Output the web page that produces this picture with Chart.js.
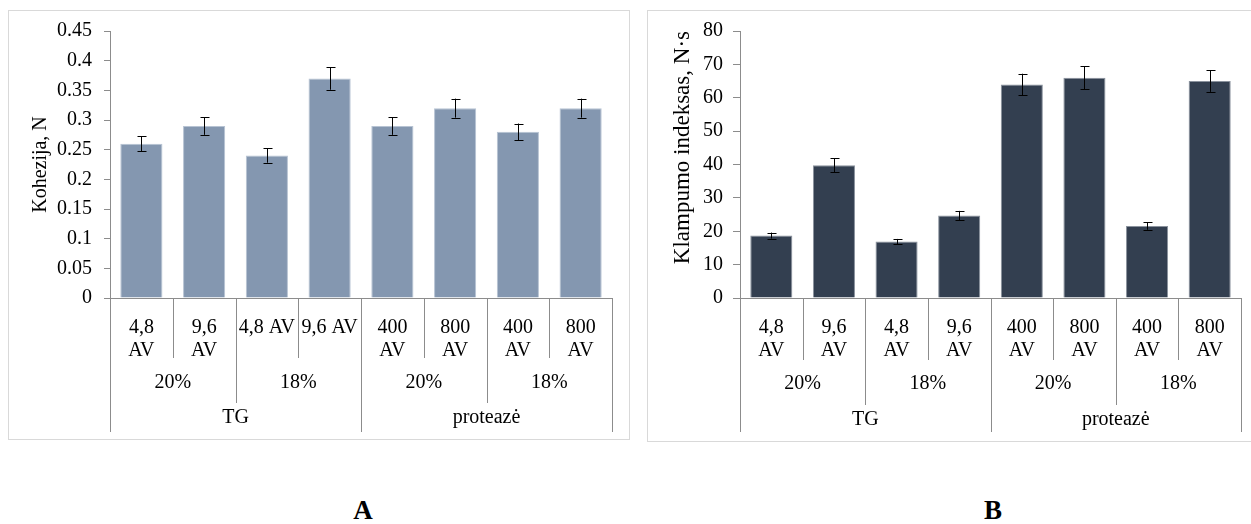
<!DOCTYPE html>
<html>
<head>
<meta charset="utf-8">
<script src="https://cdn.jsdelivr.net/npm/chart.js@4.4.1/dist/chart.umd.min.js"></script>
<style>
  html, body { margin: 0; padding: 0; background: #fff; }
  #page { position: relative; width: 1251px; height: 524px; overflow: hidden; background: #fff; }
  .frame { position: absolute; box-sizing: border-box; border: 1px solid #d9d9d9; }
  canvas { position: absolute; }
  .panel { position: absolute; font-family: 'Liberation Serif', 'Times New Roman', serif;
           font-weight: bold; font-size: 27px; line-height: 30px; color: #000;
           width: 60px; text-align: center; }
</style>
</head>
<body>
<div id="page">
  <div class="frame" style="left:8px; top:10px; width:622px; height:430px;"></div>
  <div class="frame" style="left:647px; top:10px; width:620px; height:432px;"></div>
  <canvas id="chartA" width="640" height="440" style="left:0px; top:0px;"></canvas>
  <canvas id="chartB" width="611" height="444" style="left:640px; top:0px;"></canvas>
  <div class="panel" style="left:333px; top:495px;">A</div>
  <div class="panel" style="left:963px; top:495px;">B</div>
</div>
<script>
// Category levels (innermost first)
const doseLabelsA = [['4,8', 'AV'], ['9,6', 'AV'], '4,8 AV', '9,6 AV', ['400', 'AV'], ['800', 'AV'], ['400', 'AV'], ['800', 'AV']];
const doseLabelsB = [['4,8', 'AV'], ['9,6', 'AV'], ['4,8', 'AV'], ['9,6', 'AV'], ['400', 'AV'], ['800', 'AV'], ['400', 'AV'], ['800', 'AV']];
const moistureLabels = ['20%', '18%', '20%', '18%'];
const enzymeLabels = ['TG', 'proteazė'];

// Cohesion, N (mean and error)
const kohezija = [0.26, 0.29, 0.24, 0.37, 0.29, 0.32, 0.28, 0.32];
const kohezijaErr = [0.013, 0.015, 0.012, 0.019, 0.015, 0.016, 0.014, 0.016];

// Stickiness index, N·s (mean and error)
const klampumas = [18.7, 39.8, 16.9, 24.7, 64.0, 66.0, 21.6, 65.0];
const klampumasErr = [0.9, 2.05, 0.8, 1.4, 3.2, 3.4, 1.15, 3.25];

// Value axis ranges
const yRangeA = { min: 0, max: 0.45, step: 0.05 };
const yRangeB = { min: 0, max: 80, step: 10 };

const FONT_FAMILY = "'Liberation Serif', 'Times New Roman', serif";
const FONT_SIZE = 20;
const AXIS_GRAY = '#8c8c8c';

// Error bars drawn on top of each bar through the value scale
const errorBars = {
  id: 'errorBars',
  afterDatasetsDraw(chart, args, opts) {
    const { ctx } = chart;
    const y = chart.scales.y;
    const meta = chart.getDatasetMeta(0);
    const values = chart.data.datasets[0].data;
    ctx.save();
    ctx.strokeStyle = '#000';
    ctx.lineWidth = 1;
    meta.data.forEach((bar, i) => {
      const x = Math.round(bar.x) + 0.5;
      const top = y.getPixelForValue(values[i] + opts.errors[i]);
      const bot = y.getPixelForValue(values[i] - opts.errors[i]);
      ctx.beginPath();
      ctx.moveTo(x, top); ctx.lineTo(x, bot);
      ctx.moveTo(x - 4, Math.round(top) + 0.5); ctx.lineTo(x + 5, Math.round(top) + 0.5);
      ctx.moveTo(x - 4, Math.round(bot) + 0.5); ctx.lineTo(x + 5, Math.round(bot) + 0.5);
      ctx.stroke();
    });
    ctx.restore();
  }
};

// Grouped category axis: separators between categories and the outer label rows
const groupedAxis = {
  id: 'groupedAxis',
  afterDraw(chart, args, opts) {
    const { ctx } = chart;
    const x = chart.scales.x;
    const n = chart.data.labels.length;
    const half = (x.getPixelForValue(1) - x.getPixelForValue(0)) / 2;
    const y0 = chart.chartArea.bottom;
    const edge = i => Math.round(x.getPixelForValue(i) - half) + 0.5;
    ctx.save();
    ctx.strokeStyle = AXIS_GRAY;
    ctx.lineWidth = 1;
    for (let i = 0; i <= n; i++) {
      let end = opts.level1End;
      if (i % 4 === 0) end = opts.level3End;
      else if (i % 2 === 0) end = opts.level2End;
      ctx.beginPath();
      ctx.moveTo(edge(i), y0);
      ctx.lineTo(edge(i), end);
      ctx.stroke();
    }
    ctx.fillStyle = '#000';
    ctx.font = opts.font;
    ctx.textAlign = 'center';
    ctx.textBaseline = 'middle';
    opts.level2.forEach((t, g) => {
      const cx = (x.getPixelForValue(g * 2) + x.getPixelForValue(g * 2 + 1)) / 2;
      ctx.fillText(t, cx, opts.level2Y);
    });
    opts.level3.forEach((t, g) => {
      const cx = (x.getPixelForValue(g * 4) + x.getPixelForValue(g * 4 + 3)) / 2;
      ctx.fillText(t, cx, opts.level3Y);
    });
    ctx.restore();
  }
};

function buildChart(canvasId, cfg) {
  return new Chart(document.getElementById(canvasId), {
    type: 'bar',
    data: {
      labels: cfg.labels,
      datasets: [{
        data: cfg.values,
        backgroundColor: cfg.color,
        borderColor: cfg.edge,
        borderWidth: 1,
        barPercentage: 0.672,
        categoryPercentage: 1
      }]
    },
    options: {
      responsive: false,
      animation: false,
      devicePixelRatio: 1,
      layout: { padding: { top: 31, left: 0, right: cfg.padRight, bottom: 0 } },
      plugins: {
        legend: { display: false },
        tooltip: { enabled: false },
        errorBars: { errors: cfg.errors },
        groupedAxis: {
          font: FONT_SIZE + 'px ' + FONT_FAMILY,
          level2: moistureLabels, level3: enzymeLabels,
          level1End: cfg.l1End, level2End: cfg.l2End, level3End: cfg.l3End,
          level2Y: cfg.l2Y, level3Y: cfg.l3Y
        }
      },
      scales: {
        x: {
          offset: true,
          grid: { display: false },
          border: { display: true, color: AXIS_GRAY, width: 1 },
          ticks: {
            autoSkip: false, maxRotation: 0, minRotation: 0,
            padding: 10, color: '#000',
            font: { family: FONT_FAMILY, size: FONT_SIZE, lineHeight: 1.17 }
          },
          afterFit(scale) { scale.height = cfg.xHeight; }
        },
        y: {
          min: cfg.range.min, max: cfg.range.max,
          grid: { display: true, drawOnChartArea: false, drawTicks: true, tickLength: cfg.tickLen, color: AXIS_GRAY },
          border: { display: true, color: AXIS_GRAY, width: 1 },
          ticks: {
            stepSize: cfg.range.step, padding: cfg.tickPad, color: '#000',
            font: { family: FONT_FAMILY, size: FONT_SIZE },
            callback: v => String(+v.toFixed(2))
          },
          title: {
            display: true, text: cfg.title, color: '#000', align: cfg.titleAlign,
            font: { family: FONT_FAMILY, size: cfg.titleSize, lineHeight: 1.2 },
            padding: { top: cfg.titlePad, bottom: 0 }
          },
          afterFit(scale) { scale.width = cfg.yWidth; }
        }
      }
    },
    plugins: [errorBars, groupedAxis]
  });
}

buildChart('chartA', {
  labels: doseLabelsA, values: kohezija, errors: kohezijaErr,
  color: '#8497b0', edge: '#b7c3d3', range: yRangeA,
  title: 'Kohezija, N', titleAlign: 'center', titleSize: 20, titlePad: 29,
  yWidth: 110, padRight: 28, xHeight: 142, tickLen: 6, tickPad: 12,
  l1End: 358, l2End: 403, l3End: 432, l2Y: 383, l3Y: 418
});

buildChart('chartB', {
  labels: doseLabelsB, values: klampumas, errors: klampumasErr,
  color: '#333f50', edge: '#8a929d', range: yRangeB,
  title: 'Klampumo indeksas, N·s', titleAlign: 'end', titleSize: 23, titlePad: 29,
  yWidth: 100, padRight: 10, xHeight: 146, tickLen: 7, tickPad: 10,
  l1End: 360, l2End: 405, l3End: 432, l2Y: 384, l3Y: 420
});
</script>
</body>
</html>
